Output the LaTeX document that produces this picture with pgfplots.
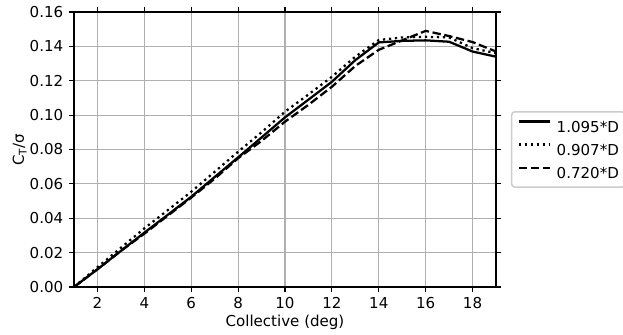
\documentclass[border=0pt]{standalone}
\usepackage{fontspec}
\setmainfont{DejaVu Sans}
\usepackage{pgfplots}
\pgfplotsset{compat=1.18}
\usepackage{pgfplotstable}

% Thrust coefficient vs collective pitch for three rotor diameters
\pgfplotstableread{
col  d1095   d0907   d0720
1    0.0     0.0     0.0
2    0.0103  0.0115  0.0103
3    0.0210  0.0228  0.0210
4    0.0316  0.0341  0.0310
5    0.0420  0.0447  0.0415
6    0.0525  0.0554  0.0520
7    0.0640  0.0670  0.0630
8    0.0754  0.0787  0.0749
9    0.0870  0.0900  0.0850
10   0.0987  0.1020  0.0962
11   0.1090  0.1120  0.1060
12   0.1194  0.1223  0.1165
13   0.1320  0.1340  0.1286
14   0.1423  0.1437  0.1380
15   0.1432  0.1452  0.1435
16   0.1435  0.1456  0.1490
17   0.1427  0.1452  0.1460
18   0.1370  0.1390  0.1425
19   0.1340  0.1360  0.1370
}\ctdata

\def\lw{2.27bp}
\begin{document}
\begin{tikzpicture}[font=\fontsize{15.1}{18}\selectfont]
\useasboundingbox (-74bp,-48bp) rectangle (549bp,287bp);
\begin{axis}[
  at={(0,0)}, anchor=south west,
  scale only axis,
  width=422bp, height=275bp,
  xmin=1, xmax=19, ymin=0, ymax=0.16,
  xtick={2,4,...,18},
  ytick={0,0.02,...,0.161},
  /pgf/number format/assume math mode=true,
  xticklabel style={inner sep=0pt, yshift=-5.3bp},
  yticklabel style={inner sep=0pt, xshift=-5.3bp,
    /pgf/number format/fixed, /pgf/number format/fixed zerofill,
    /pgf/number format/precision=2},
  tick align=outside,
  major tick length=5.3bp,
  tick style={black, line width=1.2bp},
  axis line style={line width=1.2bp},
  grid=major,
  major grid style={color=black!31, line width=1.2bp},
  xlabel={Collective (deg)},
  ylabel={C\textsubscript{T}/σ},
  every axis x label/.style={at={(axis description cs:0.5,0)}, yshift=-39.5bp, anchor=base},
  every axis y label/.style={at={(axis description cs:0,0.5)}, xshift=-50bp, rotate=90, anchor=base},
  legend style={at={(1.0355,0.5)}, anchor=west, draw=black!20, rounded corners=3bp,
    line width=1.5bp, inner xsep=5.7bp, inner ysep=8.5bp, row sep=11bp, column sep=6bp,
    nodes={inner sep=0pt, text height=11bp, text depth=0pt},
    font=\fontsize{15.1}{18}\selectfont},
  legend cell align=left,
  legend image code/.code={\draw[#1] plot coordinates {(0bp,5.5bp) (15.5bp,5.5bp) (31bp,5.5bp)};},
]
\addplot[black, line width=\lw] table[x=col, y=d1095] {\ctdata};
\addlegendentry{1.095*D}
\addplot[black, line width=\lw, dash pattern=on 2.27bp off 3.74bp] table[x=col, y=d0907] {\ctdata};
\addlegendentry{0.907*D}
\addplot[black, line width=\lw, dash pattern=on 8.4bp off 3.6bp] table[x=col, y=d0720] {\ctdata};
\addlegendentry{0.720*D}
\end{axis}
\end{tikzpicture}
\end{document}
